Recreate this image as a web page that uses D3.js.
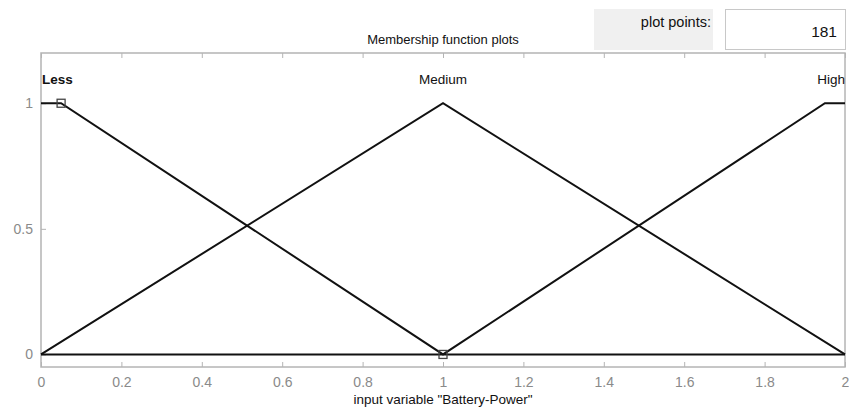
<!DOCTYPE html>
<html>
<head>
<meta charset="utf-8">
<script src="https://cdn.jsdelivr.net/npm/d3@7"></script>
<style>
  body { margin: 0; background: #fff; }
  text { font-family: "Liberation Sans", Arial, sans-serif; }
</style>
</head>
<body>
<svg id="canvas" width="849" height="414"></svg>
<script>
// membership functions of input variable "Battery-Power"
var mfNames = ['Less', 'Medium', 'High'];
var mfX = [
  [0, 0.05, 1, 2],
  [0, 1, 2],
  [0, 1, 1.95, 2]
];
var mfY = [
  [1, 1, 0, 0],
  [0, 1, 0],
  [0, 0, 1, 1]
];
// selected MF handles (Less)
var handleX = [0.05, 1];
var handleY = [1, 0];

var xTicks = [0, 0.2, 0.4, 0.6, 0.8, 1, 1.2, 1.4, 1.6, 1.8, 2];
var yTicks = [0, 0.5, 1];
var plotPoints = 181;

var svg = d3.select('#canvas');
// note: "top" is taken by window.top, so use other names
var boxL = 41, boxR = 845, boxT = 53, boxB = 367;

var x = d3.scaleLinear().domain([0, 2]).range([boxL, boxR]);
var y = d3.scaleLinear().domain([-0.05, 1.2]).range([boxB, boxT]);

var grey = '#b4b4b4';

// title + plot points panel
svg.append('text').attr('x', 443).attr('y', 44).attr('text-anchor', 'middle')
  .style('font-size', '13px').attr('fill', '#111').text('Membership function plots');

svg.append('rect').attr('x', 594).attr('y', 9).attr('width', 119).attr('height', 41).attr('fill', '#f0f0f0');
svg.append('text').attr('x', 711).attr('y', 27).attr('text-anchor', 'end')
  .style('font-size', '14.5px').attr('fill', '#111').text('plot points:');
svg.append('rect').attr('x', 725.5).attr('y', 9.5).attr('width', 120).attr('height', 40)
  .attr('fill', '#fff').attr('stroke', '#c8c8c8');
svg.append('text').attr('x', 837).attr('y', 37).attr('text-anchor', 'end')
  .style('font-size', '15.5px').attr('fill', '#111').text(plotPoints);

// axes box
svg.append('rect').attr('x', boxL).attr('y', boxT).attr('width', boxR - boxL).attr('height', boxB - boxT)
  .attr('fill', '#fff').attr('stroke', grey).attr('stroke-width', 1.5);

var xb = d3.axisBottom(x).tickValues(xTicks).tickSize(-5).tickPadding(10).tickFormat(d3.format('~g'));
var gx = svg.append('g').attr('transform', 'translate(0,' + boxB + ')').call(xb);
var xt = d3.axisTop(x).tickValues(xTicks).tickSize(-5).tickFormat('');
var gxt = svg.append('g').attr('transform', 'translate(0,' + boxT + ')').call(xt);
var yl = d3.axisLeft(y).tickValues(yTicks).tickSize(-5).tickPadding(8).tickFormat(d3.format('~g'));
var gy = svg.append('g').attr('transform', 'translate(' + boxL + ',0)').call(yl);

[gx, gxt, gy].forEach(function(g) {
  g.select('.domain').remove();
  g.selectAll('.tick line').attr('stroke', grey);
  g.selectAll('.tick text').attr('fill', '#8a8a8a').style('font-size', '14px');
});

svg.append('text').attr('x', 443).attr('y', 404).attr('text-anchor', 'middle')
  .style('font-size', '13.5px').attr('fill', '#111').text('input variable "Battery-Power"');

// MF curves
var line = d3.line().x(function(d) { return x(d[0]); }).y(function(d) { return y(d[1]); });
mfNames.forEach(function(name, i) {
  var pts = mfX[i].map(function(v, j) { return [v, mfY[i][j]]; });
  svg.append('path').attr('d', line(pts)).attr('fill', 'none')
    .attr('stroke', '#111').attr('stroke-width', 2);
});

// handles
handleX.forEach(function(v, i) {
  svg.append('rect').attr('x', x(v) - 4).attr('y', y(handleY[i]) - 4)
    .attr('width', 8).attr('height', 8).attr('fill', 'none')
    .attr('stroke', '#444').attr('stroke-width', 1.3);
});

// MF labels
var anchors = ['start', 'middle', 'end'];
var labelX = [0, 1, 2];
mfNames.forEach(function(name, i) {
  svg.append('text').attr('x', x(labelX[i]) + (i == 0 ? 1 : 0)).attr('y', 84)
    .attr('text-anchor', anchors[i]).style('font-size', '13.5px')
    .style('font-weight', i == 0 ? 'bold' : 'normal').attr('fill', '#111').text(name);
});
</script>
</body>
</html>
